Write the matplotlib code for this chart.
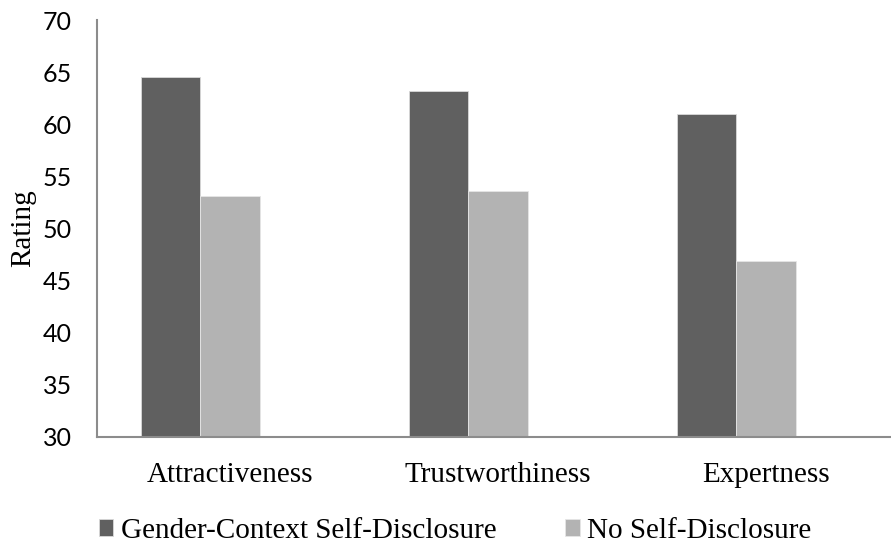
import matplotlib
matplotlib.use("Agg")
import matplotlib.pyplot as plt
import numpy as np

categories = ["Attractiveness", "Trustworthiness", "Expertness"]
series_names = ["Gender-Context Self-Disclosure", "No Self-Disclosure"]
gender_context = [64.5, 63.2, 61.0]
no_disclosure = [53.1, 53.6, 46.9]
y_ticks = [30, 35, 40, 45, 50, 55, 60, 65, 70]

dark = "#606060"
light = "#b3b3b3"
axis_gray = "#8c8c8c"
serif = "Liberation Serif"
sans = "Lato"

fig = plt.figure(figsize=(8.91, 5.46), dpi=100)
ax = fig.add_axes([97 / 891, 109 / 546, 794 / 891, 417 / 546])

x = np.arange(len(categories))
w = 0.222
ax.bar(x - w, gender_context, width=w, align="center", bottom=0,
       color=dark, edgecolor="#d9d9d9", linewidth=0.6,
       label=series_names[0], zorder=2)
ax.bar(x, no_disclosure, width=w, align="center", bottom=0,
       color=light, edgecolor="#e6e6e6", linewidth=0.6,
       label=series_names[1], zorder=2)

ax.set_ylim(30, 70)
ax.set_xlim(-0.496, 2.466)
ax.set_yticks(y_ticks)
ax.set_yticklabels([str(t) for t in y_ticks], fontfamily=sans, fontsize=18)
ax.set_xticks(x)
ax.set_xticklabels(categories, fontfamily=serif, fontsize=21)
ax.tick_params(axis="y", length=0, pad=18)
ax.tick_params(axis="x", length=0, pad=18)

for side in ["top", "right"]:
    ax.spines[side].set_visible(False)
for side in ["left", "bottom"]:
    ax.spines[side].set_color(axis_gray)
    ax.spines[side].set_linewidth(1.5)

ax.set_ylabel("Rating", fontfamily=serif, fontsize=21)
ax.yaxis.set_label_coords((36 - 97) / 794, 0.501)

leg = fig.legend(loc="center", bbox_to_anchor=(455 / 891, 15 / 546),
                 ncol=2, frameon=False,
                 prop={"family": serif, "size": 21},
                 handlelength=0.5, handleheight=0.5, handletextpad=0.25,
                 columnspacing=2.36, borderpad=0)

fig.savefig("out.png", dpi=100)
